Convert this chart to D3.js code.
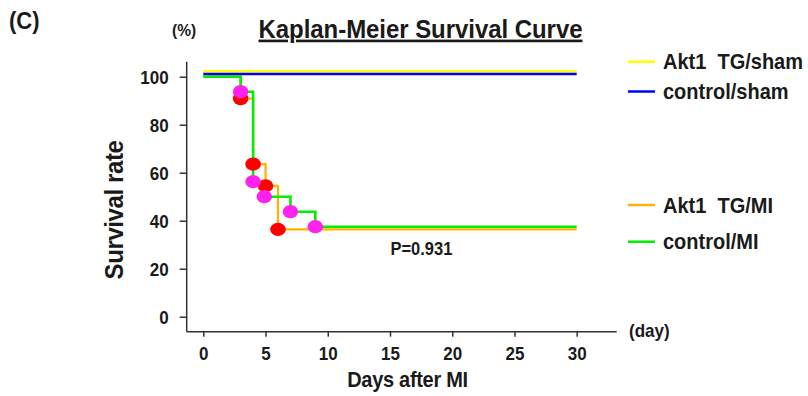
<!DOCTYPE html>
<html>
<head>
<meta charset="utf-8">
<script src="https://cdn.jsdelivr.net/npm/d3@7"></script>
<style>
  html, body { margin: 0; padding: 0; background: #fff; }
  svg { display: block; }
  text { font-family: "Liberation Sans", Arial, sans-serif; font-weight: bold; fill: #1a1a1a; white-space: pre; }
</style>
</head>
<body>
<svg id="chart" width="808" height="396"></svg>
<script>
// ---- data ----
const xTicks = [0, 5, 10, 15, 20, 25, 30];
const yTicks = [0, 20, 40, 60, 80, 100];
const seriesNames = ["Akt1  TG/sham", "control/sham", "Akt1  TG/MI", "control/MI"];
const seriesColors = ["#ffff00", "#0000ff", "#ffb300", "#00ee00"];
// Kaplan-Meier step points [day, survival %]
const tgShamDays = [0, 30];
const tgShamSurv = [102.2, 102.2];
const ctlShamDays = [0, 30];
const ctlShamSurv = [101.1, 101.1];
const tgMIDays = [0, 3, 4, 5, 6, 30];
const tgMISurv = [100, 90.9, 63.6, 54.5, 36.4, 36.4];
const ctlMIDays = [0, 3, 4, 5, 7, 9, 30];
const ctlMISurv = [100, 93.75, 56.25, 50, 43.75, 37.5, 37.5];
// event markers
const tgMIEventDays = [3, 4, 5, 6];
const tgMIEventSurv = [90.9, 63.6, 54.5, 36.4];
const ctlMIEventDays = [3, 4, 4.9, 7, 9];
const ctlMIEventSurv = [93.75, 56.25, 50, 43.75, 37.5];
const pText = "P=0.931";

// ---- layout ----
const svg = d3.select("#chart");
const x = d3.scaleLinear().domain([0, 30]).range([203.3, 576.7]);
const y = d3.scaleLinear().domain([0, 100]).range([316.7, 76.7]);
const axisX0 = x.invert(186.7), axisX1 = x.invert(616.7);
const axisYBottom = y.invert(331.7), axisYTop = y.invert(61.7);
const SY = 1.1; // vertical stretch of text seen in the reference

// axes lines
svg.append("line").attr("x1", x(axisX0)).attr("x2", x(axisX0))
  .attr("y1", y(axisYTop)).attr("y2", y(axisYBottom))
  .attr("stroke", "#333").attr("stroke-width", 1.5);
svg.append("line").attr("x1", x(axisX0)).attr("x2", x(axisX1))
  .attr("y1", y(axisYBottom)).attr("y2", y(axisYBottom))
  .attr("stroke", "#333").attr("stroke-width", 1.5);

// y axis ticks
const gy = svg.append("g").attr("transform", `translate(${x(axisX0)},0)`)
  .call(d3.axisLeft(y).tickValues(yTicks).tickSize(7).tickPadding(11).tickFormat(d3.format("d")));
gy.select(".domain").remove();
gy.selectAll(".tick line").attr("stroke", "#333").attr("stroke-width", 1.5);
gy.selectAll(".tick text").attr("font-size", 17).attr("font-family", null).attr("fill", "#1a1a1a")
  .attr("dy", null).attr("y", 6.5 / SY).attr("transform", `scale(1,${SY})`);

// x axis ticks
const gx = svg.append("g").attr("transform", `translate(0,${y(axisYBottom)})`)
  .call(d3.axisBottom(x).tickValues(xTicks).tickSize(5).tickPadding(11).tickFormat(d3.format("d")));
gx.select(".domain").remove();
gx.selectAll(".tick line").attr("stroke", "#333").attr("stroke-width", 1.5);
gx.selectAll(".tick text").attr("font-size", 17).attr("font-family", null).attr("fill", "#1a1a1a")
  .attr("dy", null).attr("y", 28.5 / SY).attr("transform", `scale(1,${SY})`);

// ---- curves ----
const line = d3.line().x(d => x(d[0])).y(d => y(d[1])).curve(d3.curveStepAfter);
const zip = (a, b) => a.map((v, i) => [v, b[i]]);
const curves = [
  { pts: zip(tgMIDays, tgMISurv), color: seriesColors[2], w: 2.2 },
  { pts: zip(ctlMIDays, ctlMISurv), color: seriesColors[3], w: 2.6 },
  { pts: zip(tgShamDays, tgShamSurv), color: seriesColors[0], w: 2.6 },
  { pts: zip(ctlShamDays, ctlShamSurv), color: seriesColors[1], w: 2.6 },
];
svg.selectAll("path.km").data(curves).join("path").attr("class", "km")
  .attr("d", d => line(d.pts)).attr("fill", "none")
  .attr("stroke", d => d.color).attr("stroke-width", d => d.w);

// markers
svg.selectAll("ellipse.tg").data(zip(tgMIEventDays, tgMIEventSurv)).join("ellipse").attr("class", "tg")
  .attr("cx", d => x(d[0])).attr("cy", d => y(d[1])).attr("rx", 7.8).attr("ry", 6.6).attr("fill", "#ff0000");
svg.selectAll("ellipse.ctl").data(zip(ctlMIEventDays, ctlMIEventSurv)).join("ellipse").attr("class", "ctl")
  .attr("cx", d => x(d[0])).attr("cy", d => y(d[1])).attr("rx", 7.8).attr("ry", 6.6).attr("fill", "#ff22ee");

// ---- texts ----
function label(tx, ty, size, str, opts = {}) {
  const g = svg.append("g").attr("transform", `translate(${tx},${ty})${opts.rotate ? " rotate(" + opts.rotate + ")" : ""} scale(1,${SY})`);
  const t = g.append("text").attr("font-size", size).text(str);
  if (opts.anchor) t.attr("text-anchor", opts.anchor);
  if (opts.ls != null) t.attr("letter-spacing", opts.ls);
  if (opts.underline) t.attr("text-decoration", "underline");
  if (opts.fill) t.attr("fill", opts.fill);
  return t;
}
label(9, 29, 22, "(C)");
label(172, 36, 15.5, "(%)");
label(420.5, 37.5, 24, "Kaplan-Meier Survival Curve", { anchor: "middle", underline: true, ls: -0.05 });
label(123, 210, 24, "Survival rate", { anchor: "middle", rotate: -90, ls: -0.4 });
label(407.5, 387, 20, "Days after MI", { anchor: "middle", ls: -0.3 });
label(629, 336.5, 17, "(day)");
label(390.5, 254.5, 16.5, pText, { fill: "#222" });

// legend
const legendY = [61.7, 91.5, 205, 241.7];
const lg = svg.selectAll("g.leg").data(seriesNames).join("g").attr("class", "leg")
  .attr("transform", (d, i) => `translate(0,${legendY[i]})`);
lg.append("line").attr("x1", 628).attr("x2", 655).attr("y1", 0).attr("y2", 0)
  .attr("stroke", (d, i) => seriesColors[i]).attr("stroke-width", 2.5);
lg.append("text").attr("transform", `translate(663,7.5) scale(1,${SY})`).attr("font-size", 20).text(d => d);
</script>
</body>
</html>
